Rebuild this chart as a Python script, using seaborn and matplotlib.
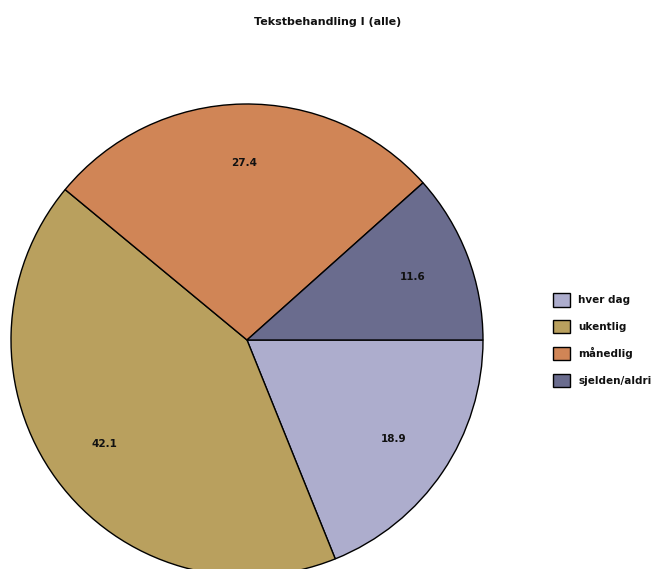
import matplotlib
matplotlib.use("Agg")
import matplotlib.pyplot as plt
import seaborn as sns

categories = ["hver dag", "ukentlig", "månedlig", "sjelden/aldri"]
shares = [18.9, 42.1, 27.4, 11.6]
slice_colors = ["#adadcd", "#b9a05e", "#d08556", "#6a6c8e"]
title = "Tekstbehandling I (alle)"

sns.set_theme(style="white")
plt.rcParams["font.family"] = ["DejaVu Sans"]

palette = sns.color_palette(slice_colors)

W, H = 654, 569
fig = plt.figure(figsize=(W / 100, H / 100), dpi=100)
fig.patch.set_facecolor("white")

# pie centred at (247, 340) px with radius 236 px
cx, cy, r = 247, 340, 236
ax = fig.add_axes([(cx - r) / W, (H - cy - r) / H, 2 * r / W, 2 * r / H])
wedges, _, autotexts = ax.pie(
    shares,
    colors=palette,
    startangle=0,
    counterclock=False,
    radius=1,
    autopct=lambda p: f"{p:.1f}",
    pctdistance=0.75,
    wedgeprops=dict(edgecolor="black", linewidth=1.0),
    textprops=dict(fontsize=7.5, fontweight="bold", color="#111111"),
)
ax.set_xlim(-1, 1)
ax.set_ylim(-1, 1)
ax.set_aspect("equal")
ax.axis("off")

fig.text(328 / W, 1 - 22 / H, title, ha="center", va="center",
         fontsize=8, fontweight="bold", color="#111111")

leg = fig.legend(
    wedges, categories,
    loc="upper left", bbox_to_anchor=(549 / W, 1 - 289 / H),
    frameon=False, fontsize=7.5,
    handlelength=1.6, handleheight=1.6, handletextpad=0.8,
    labelspacing=1.3, borderaxespad=0,
)
for t in leg.get_texts():
    t.set_fontweight("bold")
    t.set_color("#111111")

fig.savefig("out.png", dpi=100, facecolor="white")
